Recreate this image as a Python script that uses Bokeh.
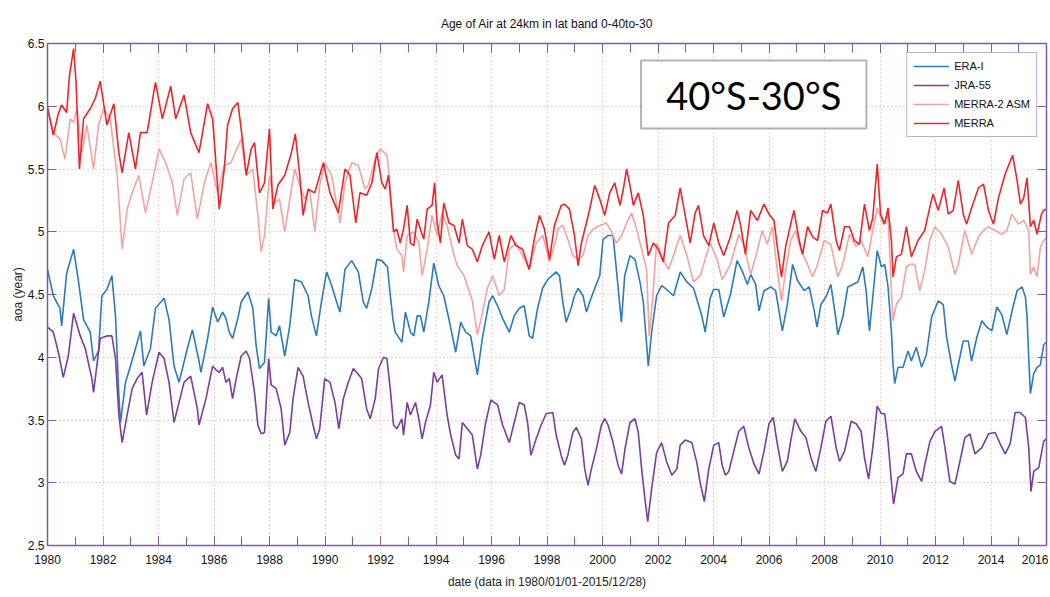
from bokeh.plotting import figure
from bokeh.models import (FixedTicker, NumeralTickFormatter, LinearAxis, BoxAnnotation,
                          Label, Legend, LegendItem, Range1d, CustomLabelingPolicy)
from bokeh.embed import file_html
from bokeh.resources import INLINE

# ---------------- data ----------------
era_year = [1980.00, 1980.21, 1980.45, 1980.51, 1980.69, 1980.94, 1981.12, 1981.30, 1981.54, 1981.66,
            1981.84, 1981.96, 1982.14, 1982.32, 1982.45, 1982.57, 1982.63, 1982.81, 1982.99, 1983.17,
            1983.35, 1983.47, 1983.71, 1983.89, 1984.20, 1984.38, 1984.56, 1984.74, 1985.04, 1985.22,
            1985.46, 1985.53, 1985.77, 1985.95, 1986.13, 1986.31, 1986.43, 1986.55, 1986.67, 1986.86,
            1986.98, 1987.22, 1987.40, 1987.52, 1987.64, 1987.82, 1987.97, 1988.06, 1988.24, 1988.36,
            1988.55, 1988.73, 1988.91, 1989.15, 1989.39, 1989.51, 1989.69, 1989.87, 1990.06, 1990.24,
            1990.42, 1990.54, 1990.72, 1990.96, 1991.20, 1991.38, 1991.50, 1991.69, 1991.87, 1992.05,
            1992.25, 1992.35, 1992.45, 1992.53, 1992.77, 1992.90, 1993.08, 1993.20, 1993.32, 1993.44,
            1993.56, 1993.74, 1993.92, 1994.10, 1994.28, 1994.46, 1994.71, 1994.89, 1995.07, 1995.25,
            1995.49, 1995.67, 1995.91, 1996.04, 1996.22, 1996.40, 1996.64, 1996.82, 1997.00, 1997.18,
            1997.36, 1997.48, 1997.66, 1997.84, 1998.03, 1998.33, 1998.45, 1998.57, 1998.69, 1998.87,
            1998.99, 1999.12, 1999.30, 1999.42, 1999.54, 1999.72, 1999.90, 2000.02, 2000.20, 2000.38,
            2000.50, 2000.68, 2000.80, 2000.99, 2001.17, 2001.35, 2001.47, 2001.65, 2001.77, 2001.95,
            2002.13, 2002.31, 2002.56, 2002.80, 2003.04, 2003.28, 2003.58, 2003.70, 2003.88, 2004.00,
            2004.19, 2004.37, 2004.61, 2004.85, 2005.03, 2005.22, 2005.34, 2005.52, 2005.64, 2005.82,
            2006.06, 2006.24, 2006.36, 2006.48, 2006.66, 2006.85, 2007.03, 2007.27, 2007.45, 2007.63,
            2007.73, 2007.87, 2008.05, 2008.23, 2008.42, 2008.48, 2008.66, 2008.84, 2009.02, 2009.20,
            2009.38, 2009.50, 2009.62, 2009.74, 2009.90, 2010.05, 2010.17, 2010.29, 2010.41, 2010.47,
            2010.53, 2010.65, 2010.83, 2011.01, 2011.13, 2011.31, 2011.50, 2011.67, 2011.86, 2012.10,
            2012.28, 2012.40, 2012.58, 2012.70, 2012.82, 2013.00, 2013.18, 2013.30, 2013.49, 2013.67,
            2013.85, 2014.03, 2014.21, 2014.39, 2014.57, 2014.76, 2014.94, 2015.12, 2015.24, 2015.30,
            2015.36, 2015.42, 2015.54, 2015.66, 2015.78, 2015.90, 2015.99]
era_aoa = [4.70, 4.49, 4.39, 4.25, 4.67, 4.86, 4.60, 4.30, 4.20, 3.97,
           4.05, 4.49, 4.54, 4.65, 4.33, 3.70, 3.48, 3.80, 3.93, 4.07,
           4.21, 3.93, 4.07, 4.39, 4.47, 4.30, 3.93, 3.80, 4.07, 4.22,
           3.97, 3.88, 4.15, 4.40, 4.28, 4.36, 4.31, 4.20, 4.15, 4.31,
           4.44, 4.52, 4.39, 4.09, 3.91, 3.96, 4.47, 4.20, 4.17, 4.25,
           4.01, 4.25, 4.62, 4.60, 4.49, 4.33, 4.17, 4.44, 4.68, 4.57,
           4.44, 4.36, 4.70, 4.77, 4.68, 4.44, 4.39, 4.55, 4.78, 4.77,
           4.72, 4.50, 4.30, 4.20, 4.12, 4.36, 4.20, 4.17, 4.33, 4.33,
           4.20, 4.44, 4.75, 4.57, 4.49, 4.31, 4.04, 4.28, 4.20, 4.17,
           3.86, 4.15, 4.44, 4.49, 4.41, 4.31, 4.20, 4.33, 4.39, 4.41,
           4.17, 4.15, 4.39, 4.55, 4.62, 4.68, 4.65, 4.44, 4.28, 4.39,
           4.49, 4.55, 4.49, 4.36, 4.44, 4.55, 4.65, 4.94, 4.97, 4.97,
           4.70, 4.28, 4.65, 4.81, 4.78, 4.60, 4.44, 3.93, 4.20, 4.49,
           4.57, 4.54, 4.49, 4.68, 4.60, 4.55, 4.33, 4.20, 4.47, 4.54,
           4.54, 4.32, 4.50, 4.77, 4.69, 4.58, 4.66, 4.58, 4.37, 4.53,
           4.56, 4.53, 4.37, 4.21, 4.42, 4.74, 4.61, 4.53, 4.56, 4.37,
           4.24, 4.42, 4.48, 4.58, 4.29, 4.18, 4.32, 4.56, 4.58, 4.60,
           4.72, 4.53, 4.21, 4.48, 4.85, 4.72, 4.74, 4.56, 4.21, 3.94,
           3.79, 3.92, 3.92, 4.05, 3.97, 4.08, 3.92, 4.02, 4.32, 4.45,
           4.42, 4.16, 3.94, 3.81, 3.94, 4.13, 4.13, 3.97, 4.16, 4.29,
           4.24, 4.21, 4.40, 4.34, 4.18, 4.37, 4.53, 4.56, 4.48, 4.32,
           3.99, 3.71, 3.87, 3.92, 3.94, 4.10, 4.12]

jra_year = [1980.00, 1980.21, 1980.39, 1980.57, 1980.75, 1980.94, 1981.18, 1981.36, 1981.60, 1981.66,
            1981.90, 1982.14, 1982.32, 1982.45, 1982.57, 1982.69, 1982.87, 1983.05, 1983.23, 1983.41,
            1983.57, 1983.77, 1984.02, 1984.20, 1984.38, 1984.56, 1984.74, 1984.92, 1985.16, 1985.40,
            1985.46, 1985.71, 1985.95, 1986.07, 1986.19, 1986.31, 1986.43, 1986.55, 1986.67, 1986.80,
            1986.98, 1987.16, 1987.28, 1987.46, 1987.58, 1987.70, 1987.82, 1987.97, 1988.06, 1988.24,
            1988.42, 1988.55, 1988.73, 1988.85, 1989.03, 1989.21, 1989.39, 1989.57, 1989.69, 1989.81,
            1989.99, 1990.18, 1990.36, 1990.50, 1990.66, 1990.84, 1991.02, 1991.14, 1991.32, 1991.50,
            1991.63, 1991.81, 1991.93, 1992.11, 1992.23, 1992.35, 1992.47, 1992.59, 1992.77, 1992.83,
            1992.96, 1993.08, 1993.26, 1993.38, 1993.50, 1993.62, 1993.80, 1993.92, 1994.04, 1994.22,
            1994.40, 1994.53, 1994.71, 1994.83, 1994.95, 1995.13, 1995.31, 1995.49, 1995.61, 1995.79,
            1995.98, 1996.22, 1996.40, 1996.64, 1996.82, 1997.00, 1997.18, 1997.30, 1997.42, 1997.61,
            1997.79, 1997.97, 1998.21, 1998.33, 1998.51, 1998.63, 1998.75, 1998.93, 1999.06, 1999.24,
            1999.36, 1999.48, 1999.60, 1999.78, 1999.96, 2000.08, 2000.20, 2000.38, 2000.56, 2000.69,
            2000.81, 2000.99, 2001.17, 2001.29, 2001.41, 2001.53, 2001.63, 2001.77, 2001.95, 2002.13,
            2002.32, 2002.50, 2002.68, 2002.80, 2002.98, 2003.22, 2003.40, 2003.52, 2003.67, 2003.83,
            2004.01, 2004.19, 2004.31, 2004.43, 2004.55, 2004.73, 2004.91, 2005.09, 2005.27, 2005.46,
            2005.64, 2005.82, 2006.00, 2006.15, 2006.30, 2006.48, 2006.66, 2006.78, 2006.93, 2007.15,
            2007.33, 2007.51, 2007.69, 2007.87, 2008.05, 2008.23, 2008.42, 2008.54, 2008.72, 2008.96,
            2009.14, 2009.32, 2009.44, 2009.59, 2009.74, 2009.90, 2010.05, 2010.17, 2010.29, 2010.41,
            2010.49, 2010.65, 2010.83, 2010.95, 2011.13, 2011.31, 2011.50, 2011.62, 2011.80, 2011.98,
            2012.22, 2012.34, 2012.52, 2012.70, 2012.88, 2013.06, 2013.24, 2013.42, 2013.67, 2013.91,
            2014.15, 2014.33, 2014.51, 2014.69, 2014.87, 2015.05, 2015.24, 2015.36, 2015.44, 2015.54,
            2015.72, 2015.90, 2015.99]
jra_aoa = [4.24, 4.20, 4.04, 3.84, 4.01, 4.35, 4.17, 4.07, 3.83, 3.72,
           4.15, 4.17, 4.17, 3.99, 3.54, 3.32, 3.54, 3.75, 3.83, 3.88,
           3.54, 3.80, 4.04, 3.99, 3.80, 3.48, 3.64, 3.80, 3.85, 3.59,
           3.46, 3.67, 3.93, 3.90, 3.88, 3.92, 3.80, 3.83, 3.67, 3.83,
           4.01, 4.05, 3.99, 3.72, 3.46, 3.39, 3.40, 3.99, 3.78, 3.75,
           3.59, 3.30, 3.40, 3.67, 3.92, 3.85, 3.64, 3.46, 3.35, 3.43,
           3.83, 3.80, 3.64, 3.43, 3.67, 3.80, 3.91, 3.88, 3.83, 3.59,
           3.51, 3.67, 3.91, 4.00, 3.99, 3.75, 3.46, 3.43, 3.51, 3.38,
           3.64, 3.54, 3.64, 3.51, 3.35, 3.48, 3.62, 3.88, 3.80, 3.86,
           3.54, 3.38, 3.22, 3.19, 3.48, 3.43, 3.38, 3.11, 3.22, 3.48,
           3.66, 3.62, 3.46, 3.32, 3.48, 3.64, 3.62, 3.48, 3.22, 3.35,
           3.46, 3.55, 3.56, 3.38, 3.22, 3.14, 3.22, 3.40, 3.44, 3.35,
           3.11, 2.98, 3.11, 3.27, 3.46, 3.51, 3.46, 3.32, 3.14, 3.07,
           3.27, 3.48, 3.51, 3.40, 3.11, 2.87, 2.69, 2.95, 3.24, 3.32,
           3.16, 3.06, 3.11, 3.30, 3.34, 3.32, 3.16, 3.00, 2.85, 3.11,
           3.30, 3.32, 3.14, 3.06, 3.09, 3.25, 3.41, 3.45, 3.28, 3.15,
           3.07, 3.25, 3.47, 3.52, 3.31, 3.09, 3.17, 3.33, 3.51, 3.41,
           3.36, 3.20, 3.09, 3.28, 3.49, 3.53, 3.28, 3.17, 3.25, 3.49,
           3.47, 3.41, 3.20, 3.03, 3.28, 3.61, 3.55, 3.55, 3.33, 3.01,
           2.83, 3.04, 3.07, 3.23, 3.23, 3.09, 3.01, 3.15, 3.33, 3.41,
           3.45, 3.28, 3.01, 2.99, 3.17, 3.36, 3.39, 3.23, 3.28, 3.39,
           3.40, 3.31, 3.23, 3.31, 3.56, 3.56, 3.52, 3.28, 2.93, 3.09,
           3.12, 3.33, 3.35]

merra2_year = [1980.00, 1980.21, 1980.45, 1980.63, 1980.82, 1980.94, 1981.06, 1981.24, 1981.42, 1981.66,
               1981.84, 1982.02, 1982.26, 1982.51, 1982.69, 1982.87, 1983.05, 1983.29, 1983.53, 1983.77,
               1984.02, 1984.26, 1984.50, 1984.68, 1984.92, 1985.16, 1985.40, 1985.65, 1985.89, 1986.13,
               1986.37, 1986.61, 1986.98, 1987.16, 1987.40, 1987.58, 1987.70, 1987.82, 1988.00, 1988.18,
               1988.36, 1988.55, 1988.73, 1988.91, 1989.09, 1989.27, 1989.45, 1989.63, 1989.81, 1989.99,
               1990.24, 1990.54, 1990.72, 1990.96, 1991.20, 1991.44, 1991.56, 1991.81, 1991.99, 1992.23,
               1992.29, 1992.47, 1992.59, 1992.77, 1992.83, 1992.96, 1993.20, 1993.38, 1993.50, 1993.68,
               1993.86, 1994.04, 1994.22, 1994.40, 1994.65, 1994.77, 1995.01, 1995.31, 1995.49, 1995.67,
               1995.85, 1996.04, 1996.28, 1996.46, 1996.64, 1996.88, 1997.12, 1997.36, 1997.61, 1997.85,
               1998.09, 1998.33, 1998.39, 1998.57, 1998.75, 1998.93, 1999.12, 1999.30, 1999.48, 1999.66,
               1999.90, 2000.14, 2000.32, 2000.50, 2000.69, 2000.87, 2001.05, 2001.23, 2001.41, 2001.59,
               2001.68, 2001.80, 2001.95, 2002.19, 2002.38, 2002.56, 2002.80, 2003.04, 2003.28, 2003.52,
               2003.70, 2003.88, 2004.13, 2004.31, 2004.37, 2004.61, 2004.91, 2005.09, 2005.34, 2005.52,
               2005.76, 2005.94, 2006.12, 2006.30, 2006.45, 2006.60, 2006.78, 2006.96, 2007.15, 2007.33,
               2007.57, 2007.75, 2007.99, 2008.23, 2008.48, 2008.66, 2008.90, 2009.14, 2009.32, 2009.56,
               2009.74, 2009.90, 2010.11, 2010.29, 2010.41, 2010.47, 2010.59, 2010.77, 2010.95, 2011.07,
               2011.25, 2011.43, 2011.61, 2011.79, 2011.98, 2012.22, 2012.46, 2012.70, 2012.82, 2013.06,
               2013.30, 2013.55, 2013.73, 2013.91, 2014.15, 2014.39, 2014.57, 2014.75, 2014.99, 2015.18,
               2015.36, 2015.42, 2015.54, 2015.66, 2015.78, 2015.90, 2015.99]
merra2_aoa = [5.99, 5.79, 5.74, 5.58, 5.90, 5.87, 5.98, 5.63, 5.85, 5.50,
              5.85, 5.98, 5.90, 5.45, 4.86, 5.18, 5.31, 5.45, 5.15, 5.39,
              5.66, 5.55, 5.39, 5.13, 5.42, 5.47, 5.10, 5.39, 5.55, 5.31,
              5.53, 5.55, 5.74, 5.45, 5.50, 5.13, 4.84, 4.97, 5.45, 5.23,
              5.26, 5.00, 5.26, 5.50, 5.37, 5.26, 5.34, 5.00, 5.37, 5.55,
              5.45, 5.07, 5.39, 5.55, 5.53, 5.34, 5.37, 5.58, 5.66, 5.61,
              5.50, 5.02, 4.86, 4.81, 4.68, 4.97, 5.00, 4.91, 4.65, 4.86,
              5.13, 4.97, 5.15, 5.05, 4.81, 4.73, 4.65, 4.45, 4.18, 4.35,
              4.55, 4.65, 4.49, 4.54, 4.86, 4.91, 4.81, 4.70, 4.91, 4.97,
              4.76, 4.94, 5.02, 5.05, 4.94, 4.81, 4.78, 4.81, 4.97, 5.02,
              5.05, 5.07, 5.00, 4.91, 4.97, 5.07, 5.15, 5.02, 4.86, 4.70,
              4.17, 4.45, 4.91, 4.78, 4.70, 4.81, 4.97, 4.81, 4.60, 4.65,
              4.78, 4.91, 4.78, 4.62, 4.64, 4.74, 4.98, 4.90, 4.66, 4.80,
              5.01, 4.90, 5.04, 4.69, 4.45, 4.69, 4.93, 5.01, 4.85, 4.77,
              4.64, 4.74, 4.93, 4.90, 4.64, 4.74, 4.98, 4.88, 4.93, 4.80,
              5.01, 5.19, 5.06, 5.14, 4.53, 4.29, 4.42, 4.48, 4.72, 4.74,
              4.74, 4.53, 4.69, 4.93, 5.04, 4.98, 4.88, 4.66, 4.74, 5.01,
              4.82, 4.96, 5.01, 5.04, 5.01, 4.98, 5.01, 5.14, 5.06, 5.09,
              5.01, 4.66, 4.72, 4.64, 4.88, 4.93, 4.95]

merra_year = [1980.00, 1980.21, 1980.39, 1980.51, 1980.69, 1980.79, 1980.94, 1981.03, 1981.15, 1981.30,
              1981.54, 1981.72, 1981.90, 1982.14, 1982.39, 1982.57, 1982.69, 1982.93, 1983.17, 1983.35,
              1983.59, 1983.89, 1984.14, 1984.44, 1984.62, 1984.92, 1985.16, 1985.46, 1985.77, 1985.95,
              1986.19, 1986.37, 1986.49, 1986.67, 1986.86, 1987.04, 1987.16, 1987.34, 1987.46, 1987.64,
              1987.82, 1988.00, 1988.12, 1988.30, 1988.55, 1988.79, 1988.93, 1989.09, 1989.21, 1989.39,
              1989.63, 1989.94, 1990.18, 1990.48, 1990.72, 1990.90, 1991.11, 1991.26, 1991.50, 1991.69,
              1991.87, 1992.05, 1992.17, 1992.29, 1992.47, 1992.59, 1992.71, 1992.83, 1992.96, 1993.08,
              1993.20, 1993.32, 1993.44, 1993.56, 1993.68, 1993.86, 1993.95, 1994.04, 1994.16, 1994.28,
              1994.47, 1994.65, 1994.83, 1994.95, 1995.13, 1995.31, 1995.49, 1995.67, 1995.91, 1996.10,
              1996.28, 1996.46, 1996.70, 1996.88, 1997.12, 1997.36, 1997.54, 1997.73, 1997.91, 1998.09,
              1998.27, 1998.51, 1998.63, 1998.81, 1998.99, 1999.12, 1999.24, 1999.42, 1999.54, 1999.72,
              1999.90, 2000.08, 2000.26, 2000.44, 2000.63, 2000.75, 2000.87, 2000.99, 2001.11, 2001.29,
              2001.47, 2001.65, 2001.83, 2002.01, 2002.19, 2002.38, 2002.62, 2002.80, 2002.98, 2003.16,
              2003.34, 2003.46, 2003.64, 2003.83, 2004.01, 2004.19, 2004.37, 2004.61, 2004.85, 2004.97,
              2005.15, 2005.34, 2005.58, 2005.82, 2006.00, 2006.18, 2006.30, 2006.45, 2006.60, 2006.78,
              2006.90, 2007.09, 2007.21, 2007.39, 2007.57, 2007.75, 2007.93, 2008.11, 2008.23, 2008.42,
              2008.54, 2008.72, 2008.90, 2009.08, 2009.26, 2009.44, 2009.62, 2009.74, 2009.90, 2010.02,
              2010.17, 2010.29, 2010.41, 2010.47, 2010.59, 2010.77, 2010.95, 2011.13, 2011.37, 2011.61,
              2011.79, 2011.91, 2012.10, 2012.31, 2012.46, 2012.64, 2012.82, 2013.00, 2013.12, 2013.30,
              2013.55, 2013.73, 2013.91, 2014.09, 2014.27, 2014.51, 2014.78, 2014.94, 2015.06, 2015.18,
              2015.30, 2015.42, 2015.54, 2015.66, 2015.82, 2015.90, 2015.99]
merra_aoa = [5.99, 5.77, 5.94, 6.01, 5.95, 6.24, 6.46, 6.19, 5.50, 5.90,
             5.98, 6.06, 6.20, 5.85, 6.02, 5.63, 5.47, 5.79, 5.50, 5.79,
             5.79, 6.19, 5.90, 6.16, 5.90, 6.09, 5.79, 5.63, 6.02, 5.90,
             5.18, 5.50, 5.85, 5.98, 6.03, 5.71, 5.45, 5.66, 5.71, 5.31,
             5.39, 5.82, 5.18, 5.37, 5.45, 5.63, 5.78, 5.45, 5.13, 5.34,
             5.31, 5.55, 5.31, 5.15, 5.50, 5.45, 5.07, 5.31, 5.29, 5.39,
             5.63, 5.39, 5.34, 5.45, 5.00, 5.02, 4.91, 5.02, 5.21, 4.91,
             4.89, 5.10, 5.02, 4.94, 5.18, 5.21, 5.39, 5.07, 4.91, 5.23,
             5.07, 5.05, 4.91, 5.10, 4.89, 4.86, 4.76, 4.89, 5.00, 4.78,
             4.97, 4.76, 4.97, 4.89, 4.86, 4.70, 4.94, 5.13, 5.02, 4.78,
             5.05, 5.21, 5.22, 5.18, 4.97, 4.73, 4.91, 5.07, 5.18, 5.37,
             5.26, 5.13, 5.31, 5.39, 5.21, 5.34, 5.50, 5.37, 5.21, 5.31,
             5.13, 4.81, 4.91, 4.86, 4.76, 5.07, 5.13, 5.35, 5.13, 4.91,
             5.15, 5.21, 4.97, 4.89, 5.07, 4.91, 4.81, 4.96, 5.17, 5.06,
             4.82, 5.17, 5.09, 5.22, 5.14, 5.09, 4.88, 4.64, 4.88, 5.06,
             5.17, 4.93, 4.82, 5.04, 4.96, 4.93, 5.17, 5.15, 5.22, 4.93,
             4.85, 5.04, 5.04, 4.93, 4.90, 5.22, 5.01, 5.11, 5.54, 5.14,
             5.06, 5.19, 4.93, 4.64, 4.80, 4.82, 5.04, 4.80, 4.93, 5.01,
             5.19, 5.30, 5.17, 5.35, 5.14, 5.17, 5.41, 5.14, 5.06, 5.19,
             5.35, 5.38, 5.17, 5.06, 5.27, 5.46, 5.61, 5.41, 5.22, 5.27,
             5.43, 5.04, 5.09, 4.98, 5.14, 5.17, 5.18]

series_names = ["ERA-I", "JRA-55", "MERRA-2 ASM", "MERRA"]
series_colors = ["#2b7bba", "#7a3e9d", "#f4a3a3", "#e8262b"]

y_ticks = [2.5, 3, 3.5, 4, 4.5, 5, 5.5, 6, 6.5]
x_major = list(range(1980, 2017, 2))
x_minor = list(range(1980, 2017))

title_text = "Age of Air at 24km in lat band 0-40to-30"
x_label = "date (data in 1980/01/01-2015/12/28)"
y_label = "aoa (year)"
box_text = "40°S-30°S"

# ---------------- figure ----------------
FONT = "Liberation Sans"
AXIS_COLOR = "#7d5cb0"
GRID_COLOR = "#f0a0a0"

p = figure(width=1048, height=595, output_backend="svg", toolbar_location=None,
           x_range=Range1d(1980, 2016), y_range=Range1d(2.5, 6.5),
           min_border_left=47, min_border_right=2, min_border_top=43, min_border_bottom=50)
p.outline_line_color = AXIS_COLOR
p.background_fill_color = "white"

p.title.text = title_text
p.title.align = "center"
p.title.text_font = FONT
p.title.text_font_size = "12px"
p.title.text_font_style = "normal"
p.title.text_color = "#111111"
p.title.standoff = 26

xticker = FixedTicker(ticks=x_major, minor_ticks=x_minor)
yticker = FixedTicker(ticks=y_ticks, minor_ticks=[])

def style_axis(ax):
    ax.axis_line_color = AXIS_COLOR
    ax.axis_line_width = 1.5
    ax.major_tick_line_color = AXIS_COLOR
    ax.minor_tick_line_color = AXIS_COLOR
    ax.major_tick_in = 9
    ax.major_tick_out = 0
    ax.minor_tick_in = 9
    ax.minor_tick_out = 0
    ax.major_label_text_font = FONT
    ax.major_label_text_font_size = "12px"
    ax.major_label_text_color = "#111111"
    ax.axis_label_text_font = FONT
    ax.axis_label_text_font_size = "12px"
    ax.axis_label_text_font_style = "normal"
    ax.axis_label_text_color = "#222222"

p.xaxis.ticker = xticker
p.yaxis.ticker = yticker
p.yaxis.formatter = NumeralTickFormatter(format="0.[0]")
p.xaxis.formatter = NumeralTickFormatter(format="0")
style_axis(p.xaxis[0])
style_axis(p.yaxis[0])
p.xaxis.axis_label = x_label
p.yaxis.axis_label = y_label
p.xaxis.major_label_standoff = 9
p.xaxis.axis_label_standoff = 8
p.yaxis.major_label_standoff = 3
p.yaxis.axis_label_standoff = 0

# box-style axes on top and right: ticks only, labels suppressed (and sized to nothing)
for loc, tk in (("above", xticker), ("right", yticker)):
    ax = LinearAxis(ticker=tk, major_label_policy=CustomLabelingPolicy(code="return []"))
    style_axis(ax)
    ax.major_label_text_font_size = "0px"
    ax.major_label_standoff = 0
    ax.axis_label_standoff = 0
    p.add_layout(ax, loc)

p.xgrid.grid_line_color = GRID_COLOR
p.ygrid.grid_line_color = GRID_COLOR
p.grid.grid_line_dash = "1 3"
p.grid.grid_line_width = 1

# ---------------- lines ----------------
data = [(era_year, era_aoa), (jra_year, jra_aoa), (merra2_year, merra2_aoa), (merra_year, merra_aoa)]
items = []
for (xs, ys), name, col in zip(data, series_names, series_colors):
    r = p.line(xs, ys, line_color=col, line_width=1.6)
    items.append(LegendItem(label=name, renderers=[r]))

legend = Legend(items=items, location="top_right")
legend.label_text_font = FONT
legend.label_text_font_size = "11px"
legend.label_text_color = "#111111"
legend.border_line_color = AXIS_COLOR
legend.border_line_width = 1.5
legend.glyph_width = 36
legend.glyph_height = 14
legend.label_height = 14
legend.spacing = 5
legend.padding = 6
legend.margin = 9
legend.label_standoff = 5
p.add_layout(legend)

# ---------------- boxed region label ----------------
p.add_layout(BoxAnnotation(left=2001.39, right=2009.51, bottom=5.822, top=6.364,
                           fill_color="white", fill_alpha=1.0, line_color="black", line_width=2))
p.add_layout(Label(x=2005.45, y=6.093, text=box_text, text_align="center", text_baseline="middle",
                   text_font="Lato", text_font_size="38px", text_color="black"))

open("out.html", "w").write(file_html(p, INLINE))
